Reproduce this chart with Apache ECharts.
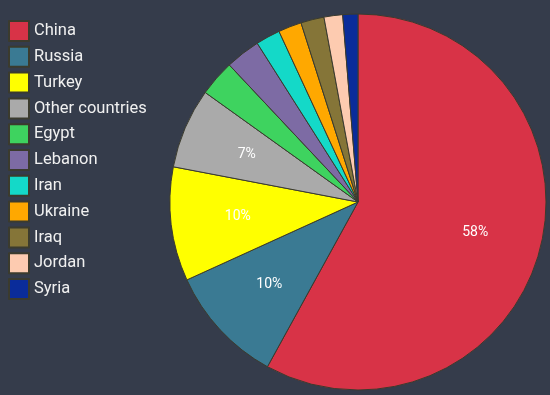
<!DOCTYPE html>
<html>
<head>
<meta charset="utf-8">
<script src="https://cdn.jsdelivr.net/npm/echarts@6/dist/echarts.min.js"></script>
<style>
html,body{margin:0;padding:0;background:#353c4b;}
#chart{width:550px;height:395px;}
</style>
</head>
<body>
<div id="chart"></div>
<script>
var countries = ['China','Russia','Turkey','Other countries','Egypt','Lebanon','Iran','Ukraine','Iraq','Jordan','Syria'];
var shares = [58.0, 10.2, 9.8, 6.9, 3.1, 3.0, 2.1, 2.0, 2.0, 1.6, 1.3];
var colors = ['#d83347','#3a7a93','#ffff00','#aaaaaa','#3ed35f','#7d6ba4','#14d9c8','#ffa800','#857538','#fdcbb0','#0a2c9a'];

var data = countries.map(function(n,i){ return {name:n, value:shares[i], itemStyle:{color:colors[i]}}; });
var labelData = countries.map(function(n,i){ return {name:n, value:shares[i]}; });

var chart = echarts.init(document.getElementById('chart'), null, {renderer:'canvas'});
chart.setOption({
  backgroundColor:'#353c4b',
  animation:false,
  legend:{
    orient:'vertical', left:8, top:20, padding:0,
    itemWidth:20, itemHeight:20, itemGap:3.8,
    icon:'rect',
    textStyle:{color:'#f0f0f0', fontSize:16.5, fontFamily:'Roboto', lineHeight:20},
    data:countries
  },
  series:[
    {
      type:'pie', center:[358,202], radius:[0,188],
      startAngle:90, clockwise:true,
      itemStyle:{borderColor:'#3b3b2e', borderWidth:1},
      label:{show:false}, labelLine:{show:false},
      emphasis:{disabled:true},
      data:data
    },
    {
      type:'pie', center:[358,202], radius:[0,236],
      startAngle:90, clockwise:true, silent:true,
      itemStyle:{color:'transparent', borderWidth:0},
      label:{show:true, position:'inside', color:'#ffffff', fontSize:14, fontFamily:'Roboto',
        formatter:function(p){ return p.percent >= 5 ? Math.round(p.percent)+'%' : ''; }},
      labelLine:{show:false},
      emphasis:{disabled:true},
      data:labelData
    }
  ]
});
</script>
</body>
</html>
